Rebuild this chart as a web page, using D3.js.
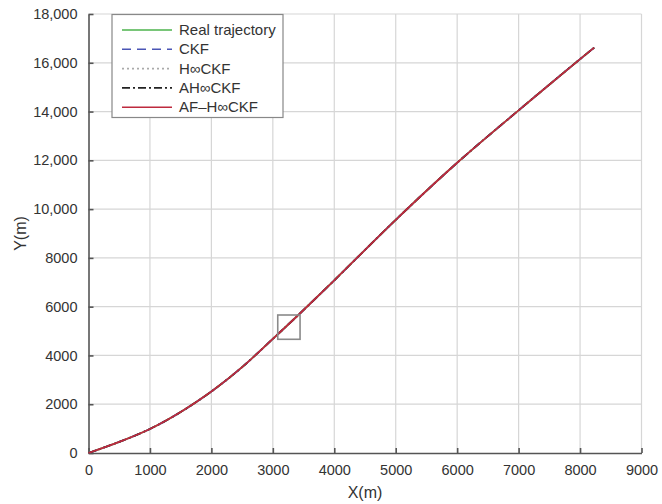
<!DOCTYPE html>
<html>
<head>
<meta charset="utf-8">
<script src="https://cdn.jsdelivr.net/npm/d3@7"></script>
<style>
  body { margin: 0; background: #fff; }
  text { font-family: "Liberation Sans", Arial, sans-serif; fill: #333; }
</style>
</head>
<body>
<main></main>
<script>
// trajectory (all filters sit on top of each other)
let trajX = [0, 500, 1000, 1500, 2000, 2500, 3000, 3432, 4000, 5000, 6000, 7000, 8000, 8230]
let trajY = [0, 455, 985, 1680, 2520, 3520, 4680, 5700, 7080, 9560, 11900, 14050, 16150, 16620]

let seriesNames = ["Real trajectory", "CKF", "H\u221ECKF", "AH\u221ECKF", "AF\u2013H\u221ECKF"]
let seriesColors = ["#4cb34c", "#4a55b5", "#aaaaaa", "#222222", "#be2a3e"]
let seriesDash = [null, "9,6", "2,3", "8,3,2,3", null]

let xTicks = [0, 1000, 2000, 3000, 4000, 5000, 6000, 7000, 8000, 9000]
let yTicks = [0, 2000, 4000, 6000, 8000, 10000, 12000, 14000, 16000, 18000]

// zoom box drawn on the chart
let boxX = [3080, 3443]
let boxY = [4662, 5658]

let width = 662, height = 504
let margin = { left: 88.5, right: 20.5, top: 14, bottom: 51 }

let svg = d3.select('main')
    .append('svg')
    .attr('width', width)
    .attr('height', height)

let x = d3.scaleLinear().domain([0, 9000]).range([margin.left, width - margin.right])
let y = d3.scaleLinear().domain([0, 18000]).range([height - margin.bottom, margin.top])

// grid
let grid = svg.append("g")
grid.selectAll(".gx")
    .data(xTicks.slice(1))
    .enter()
    .append("line")
    .attr("x1", d => x(d)).attr("x2", d => x(d))
    .attr("y1", y(0)).attr("y2", y(18000))
    .attr("stroke", "#d6d6d6")
    .attr("stroke-width", 1.2)
grid.selectAll(".gy")
    .data(yTicks.slice(1))
    .enter()
    .append("line")
    .attr("x1", x(0)).attr("x2", x(9000))
    .attr("y1", d => y(d)).attr("y2", d => y(d))
    .attr("stroke", "#d6d6d6")
    .attr("stroke-width", 1.2)

// axes, inward ticks
let fmt = d => d >= 10000 ? d3.format(",")(d) : String(d)

let xAxis = svg.append("g")
    .attr("transform", `translate(0,${y(0)})`)
    .call(d3.axisBottom(x).tickValues(xTicks).tickFormat(d => String(d)).tickSizeInner(-5).tickSizeOuter(0).tickPadding(12))
let yAxis = svg.append("g")
    .attr("transform", `translate(${x(0)},0)`)
    .call(d3.axisLeft(y).tickValues(yTicks).tickFormat(fmt).tickSizeInner(-5).tickSizeOuter(0).tickPadding(11))

for (let ax of [xAxis, yAxis]) {
    ax.select(".domain").attr("stroke", "#555").attr("stroke-width", 1.6)
    ax.selectAll(".tick line").attr("stroke", "#555").attr("stroke-width", 1.6)
    ax.selectAll("text")
        .attr("fill", "#333")
        .style("font-size", "14.5px")
        .style("font-family", "Liberation Sans, Arial, sans-serif")
}

// lines
let line = d3.line()
    .x((d, i) => x(trajX[i]))
    .y(d => y(d))
    .curve(d3.curveCatmullRom.alpha(0.5))

seriesNames.forEach(function (name, i) {
    svg.append("path")
        .datum(trajY)
        .attr("d", line)
        .attr("fill", "none")
        .attr("stroke", seriesColors[i])
        .attr("stroke-width", 1.8)
        .attr("stroke-dasharray", seriesDash[i])
})

svg.append("rect")
    .attr("x", x(boxX[0]))
    .attr("y", y(boxY[1]))
    .attr("width", x(boxX[1]) - x(boxX[0]))
    .attr("height", y(boxY[0]) - y(boxY[1]))
    .attr("fill", "none")
    .attr("stroke", "#8a8a8a")
    .attr("stroke-width", 1.6)

// legend
let legend = svg.append("g")
legend.append("rect")
    .attr("x", 112).attr("y", 14.5)
    .attr("width", 171).attr("height", 103)
    .attr("fill", "#fff")
    .attr("stroke", "#888")
    .attr("stroke-width", 1.2)

seriesNames.forEach(function (name, i) {
    let ly = 30 + i * 19.3
    legend.append("line")
        .attr("x1", 122).attr("x2", 172)
        .attr("y1", ly).attr("y2", ly)
        .attr("stroke", seriesColors[i])
        .attr("stroke-width", 1.6)
        .attr("stroke-dasharray", seriesDash[i])
    legend.append("text")
        .attr("x", 179).attr("y", ly + 5)
        .style("font-size", "15px")
        .text(name)
})

// axis titles
svg.append("text")
    .attr("x", x(4500)).attr("y", 498)
    .attr("text-anchor", "middle")
    .style("font-size", "16px")
    .text("X(m)")
svg.append("text")
    .attr("transform", `translate(26,${y(9000)}) rotate(-90)`)
    .attr("text-anchor", "middle")
    .style("font-size", "16px")
    .text("Y(m)")
</script>
</body>
</html>
